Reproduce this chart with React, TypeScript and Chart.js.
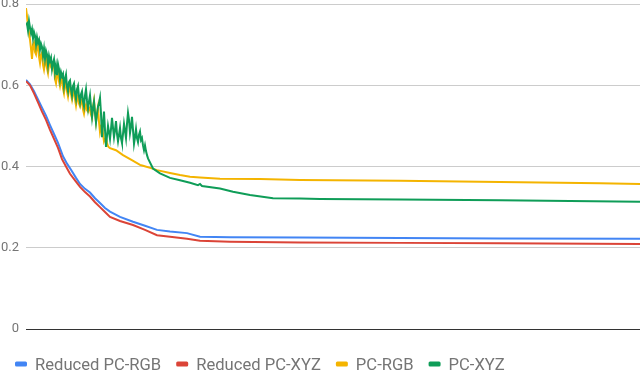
import React, { useEffect, useRef } from "react";
import { Chart, registerables } from "chart.js";

Chart.register(...registerables);

const seriesNames = ["Reduced PC-RGB", "Reduced PC-XYZ", "PC-RGB", "PC-XYZ"];
const seriesColors = ["#4285f4", "#db4437", "#f4b400", "#0f9d58"];
const yTickValues = [0, 0.2, 0.4, 0.6, 0.8];
const xMax = 614;

// Reduced PC-RGB
const blueX = [0, 4, 8, 12, 16, 20, 24, 28, 32, 37, 41, 45, 50, 54, 59, 64, 69, 74, 79, 84, 94, 107, 119, 131, 144, 161, 174, 204, 274, 374, 474, 614];
const blueY = [0.613, 0.602, 0.585, 0.565, 0.545, 0.525, 0.502, 0.48, 0.458, 0.425, 0.407, 0.392, 0.372, 0.357, 0.345, 0.336, 0.322, 0.31, 0.298, 0.289, 0.276, 0.264, 0.254, 0.244, 0.24, 0.236, 0.227, 0.226, 0.225, 0.224, 0.223, 0.222];

// Reduced PC-XYZ
const redX = [0, 4, 8, 12, 16, 20, 24, 28, 32, 36, 40, 44, 49, 54, 59, 64, 69, 74, 79, 84, 94, 107, 119, 131, 144, 161, 174, 204, 274, 374, 474, 614];
const redY = [0.61, 0.6, 0.58, 0.558, 0.535, 0.515, 0.49, 0.468, 0.446, 0.418, 0.4, 0.382, 0.366, 0.35, 0.337, 0.326, 0.312, 0.3, 0.288, 0.276, 0.266, 0.256, 0.244, 0.231, 0.227, 0.222, 0.217, 0.215, 0.213, 0.212, 0.211, 0.209];

// PC-RGB: one reading per step for the first 85 steps, then sparse readings
const yellowDenseY = [
  0.79, 0.77, 0.745, 0.728, 0.712, 0.69, 0.665, 0.7, 0.705, 0.682,
  0.676, 0.698, 0.7, 0.67, 0.655, 0.675, 0.68, 0.65, 0.638, 0.655,
  0.665, 0.642, 0.63, 0.652, 0.658, 0.645, 0.64, 0.652, 0.648, 0.615,
  0.605, 0.625, 0.635, 0.61, 0.598, 0.612, 0.618, 0.592, 0.58, 0.6,
  0.612, 0.585, 0.572, 0.59, 0.6, 0.578, 0.565, 0.58, 0.588, 0.565,
  0.55, 0.566, 0.575, 0.555, 0.548, 0.56, 0.565, 0.54, 0.53, 0.545,
  0.552, 0.538, 0.535, 0.545, 0.54, 0.528, 0.52, 0.545, 0.562, 0.535,
  0.51, 0.528, 0.545, 0.51, 0.485, 0.498, 0.505, 0.48, 0.462, 0.468,
  0.47, 0.458, 0.45, 0.447, 0.445,
];
const yellowTailX = [90, 97, 105, 114, 117, 125, 131, 144, 154, 164, 174, 194, 234, 274, 374, 474, 574, 614];
const yellowTailY = [0.44, 0.428, 0.417, 0.404, 0.402, 0.396, 0.391, 0.384, 0.379, 0.375, 0.373, 0.37, 0.369, 0.367, 0.365, 0.362, 0.359, 0.357];

// PC-XYZ: one reading per step for the first 123 steps, then sparse readings
const greenDenseY = [
  0.748, 0.752, 0.735, 0.758, 0.742, 0.728, 0.738, 0.715, 0.731, 0.722,
  0.7, 0.718, 0.705, 0.712, 0.688, 0.702, 0.694, 0.672, 0.69, 0.665,
  0.685, 0.676, 0.65, 0.672, 0.66, 0.668, 0.64, 0.655, 0.664, 0.632,
  0.648, 0.625, 0.652, 0.64, 0.615, 0.632, 0.622, 0.628, 0.598, 0.615,
  0.626, 0.596, 0.585, 0.608, 0.612, 0.59, 0.575, 0.598, 0.604, 0.58,
  0.566, 0.59, 0.598, 0.572, 0.558, 0.578, 0.585, 0.56, 0.548, 0.575,
  0.59, 0.562, 0.542, 0.56, 0.575, 0.548, 0.522, 0.545, 0.56, 0.532,
  0.508, 0.53, 0.548, 0.556, 0.569, 0.53, 0.472, 0.505, 0.535, 0.49,
  0.448, 0.475, 0.5, 0.485, 0.468, 0.492, 0.52, 0.495, 0.472, 0.49,
  0.512, 0.48, 0.462, 0.478, 0.495, 0.47, 0.458, 0.48, 0.505, 0.488,
  0.47, 0.505, 0.532, 0.515, 0.482, 0.498, 0.522, 0.49, 0.456, 0.472,
  0.492, 0.47, 0.46, 0.478, 0.486, 0.465, 0.47, 0.452, 0.44, 0.452,
  0.438, 0.428, 0.42,
];
const greenTailX = [127, 134, 144, 154, 164, 172, 174, 176, 194, 207, 224, 247, 274, 294, 374, 474, 614];
const greenTailY = [0.395, 0.383, 0.372, 0.366, 0.36, 0.354, 0.357, 0.352, 0.346, 0.338, 0.33, 0.322, 0.321, 0.32, 0.319, 0.317, 0.313];

const toPoints = (xs: number[], ys: number[]) => xs.map((x, j) => ({ x, y: ys[j] }));
const densePoints = (ys: number[]) => ys.map((y, j) => ({ x: j, y }));

const seriesPoints = [
  toPoints(blueX, blueY),
  toPoints(redX, redY),
  densePoints(yellowDenseY).concat(toPoints(yellowTailX, yellowTailY)),
  densePoints(greenDenseY).concat(toPoints(greenTailX, greenTailY)),
];
const drawOrder = [3, 2, 1, 0];

const legendPlugin = {
  id: "bottomLegend",
  afterDraw(chart: any) {
    const ctx = chart.ctx;
    ctx.save();
    ctx.font = "16.6px Roboto";
    ctx.textBaseline = "alphabetic";
    ctx.textAlign = "left";
    let x = 15;
    chart.data.datasets.forEach((ds: any) => {
      ctx.fillStyle = ds.borderColor;
      ctx.beginPath();
      if (ctx.roundRect) ctx.roundRect(x, 361.5, 12, 5, 1.5);
      else ctx.rect(x, 361.5, 12, 5);
      ctx.fill();
      ctx.fillStyle = "#757575";
      ctx.fillText(ds.label, x + 20, 370);
      x = x + 20 + ctx.measureText(ds.label).width + 15;
    });
    ctx.restore();
  },
};

export default function App() {
  const canvasRef = useRef<HTMLCanvasElement | null>(null);
  useEffect(() => {
    if (!canvasRef.current) return;
    const chart = new Chart(canvasRef.current, {
      type: "line",
      data: {
        datasets: seriesNames.map((name, i) => ({
          label: name,
          data: seriesPoints[i],
          borderColor: seriesColors[i],
          backgroundColor: seriesColors[i],
          borderWidth: 2,
          pointRadius: 0,
          tension: 0,
          fill: false,
          order: drawOrder[i],
        })),
      },
      options: {
        animation: false,
        responsive: false,
        maintainAspectRatio: false,
        layout: { padding: { left: 0, right: 0, top: 0, bottom: 43 } },
        plugins: { legend: { display: false }, tooltip: { enabled: false } },
        scales: {
          x: { type: "linear", min: 0, max: xMax, display: false },
          y: {
            min: 0,
            max: 0.8,
            afterBuildTicks: (scale: any) => {
              scale.ticks = yTickValues.map((v) => ({ value: v }));
            },
            afterFit: (scale: any) => {
              scale.width = 26;
              scale.paddingTop = 4;
              scale.paddingBottom = 0;
            },
            border: { display: false },
            grid: {
              drawTicks: false,
              color: (c: any) => (c.tick && c.tick.value === 0 ? "#333333" : "#cccccc"),
              lineWidth: 1,
            },
            ticks: {
              padding: 7,
              color: "#757575",
              font: { family: "Roboto", size: 13 },
              callback: (v: any) => String(Number(v)),
            },
          },
        },
      },
      plugins: [legendPlugin],
    });
    return () => chart.destroy();
  }, []);
  return (
    <div style={{ position: "fixed", left: 0, top: 0, width: 640, height: 372, background: "#fff" }}>
      <canvas ref={canvasRef} width={640} height={372} style={{ width: 640, height: 372 }} />
    </div>
  );
}
